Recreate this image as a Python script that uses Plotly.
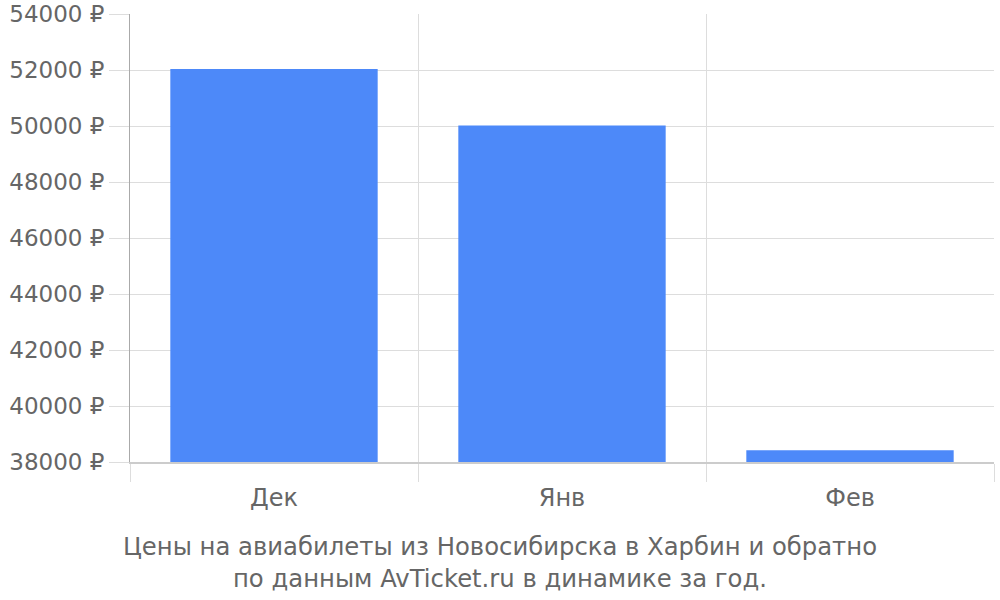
import plotly.graph_objects as go

months = ["Дек", "Янв", "Фев"]
prices = [52040, 50020, 38420]
y_ticks = [38000, 40000, 42000, 44000, 46000, 48000, 50000, 52000, 54000]
y_labels = [f"{v} ₽" for v in y_ticks]
title_text = ("Цены на авиабилеты из Новосибирска в Харбин и обратно"
              "<br>по данным AvTicket.ru в динамике за год.")

fig = go.Figure(go.Bar(
    x=months,
    y=prices,
    width=0.72,
    marker=dict(color="#4d89f9", line=dict(width=0)),
    showlegend=False))

fig.update_layout(
    width=1000, height=600,
    margin=dict(l=130, r=6, t=14, b=138),
    paper_bgcolor="white", plot_bgcolor="white",
    font=dict(family="DejaVu Sans", size=24, color="#666"),
    title=dict(text=title_text, x=0.5, xref="container", xanchor="center",
               y=0.075, yref="container", yanchor="top",
               font=dict(size=24.3, color="#666")),
)

fig.update_xaxes(
    automargin=False,
    tickson="boundaries", ticks="outside", ticklen=18, tickcolor="#ddd",
    ticklabelstandoff=13,
    showgrid=True, gridcolor="#ddd", gridwidth=1,
    showline=True, linecolor="#ccc", linewidth=2,
    tickfont=dict(size=24, color="#666"))
fig.update_yaxes(
    automargin=False,
    range=[38000, 54000], tickmode="array", tickvals=y_ticks, ticktext=y_labels,
    ticklabeloverflow="allow",
    ticks="outside", ticklen=20, tickcolor="#ddd",
    showgrid=True, gridcolor="#ddd", gridwidth=1,
    showline=True, linecolor="#aaa", linewidth=1, zeroline=False,
    tickfont=dict(size=23, color="#666"))

# drop the default 8px body margin so the figure fills the window
fig.write_html("out.html", config={"displayModeBar": False},
               post_script="document.body.style.margin='0px';")
